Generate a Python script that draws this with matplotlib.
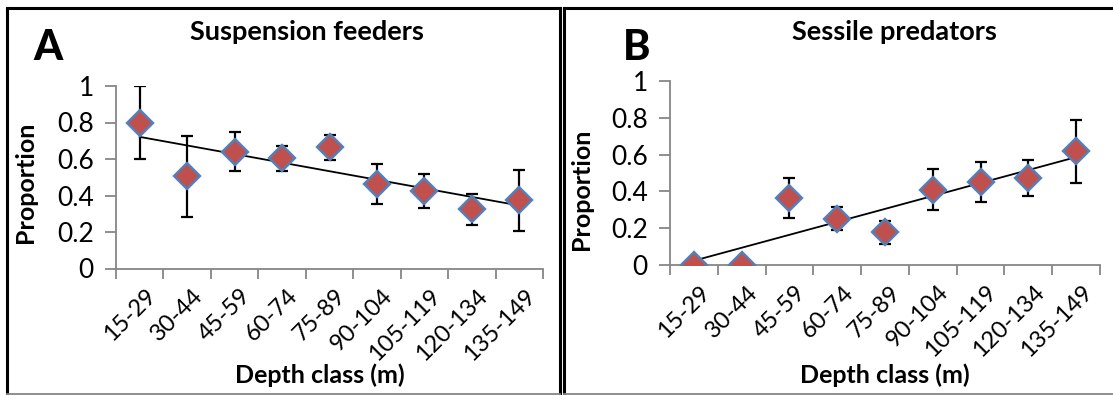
import numpy as np
import matplotlib
matplotlib.use("Agg")
import matplotlib.pyplot as plt
from matplotlib.lines import Line2D
from matplotlib.transforms import ScaledTranslation

plt.rcParams['font.family'] = ['Lato', 'DejaVu Sans']

categories = ["15-29", "30-44", "45-59", "60-74", "75-89", "90-104", "105-119", "120-134", "135-149"]

susp_vals = [0.80, 0.505, 0.64, 0.603, 0.664, 0.465, 0.424, 0.324, 0.373]
susp_err = [0.20, 0.222, 0.107, 0.068, 0.07, 0.11, 0.095, 0.086, 0.165]

sess_vals = [0.0, 0.0, 0.364, 0.251, 0.177, 0.41, 0.451, 0.474, 0.617]
sess_err = [0.0, 0.0, 0.108, 0.062, 0.064, 0.113, 0.107, 0.097, 0.171]

yticks = [0, 0.2, 0.4, 0.6, 0.8, 1.0]
yticklabels = ["0", "0.2", "0.4", "0.6", "0.8", "1"]

W, H = 1113, 395
fig = plt.figure(figsize=(W / 100, H / 100), dpi=100)

def frac_box(l, r, t, b):
    return [l / W, (H - b) / H, (r - l) / W, (b - t) / H]

AXIS_GRAY = "#868686"

def panel(box, vals, errs, title, letter, title_xy, letter_xy, ylab_pos, xlab_pos):
    ax = fig.add_axes(frac_box(*box))
    x = np.arange(len(categories))
    ax.errorbar(x, vals, yerr=errs, fmt='none', ecolor='black', elinewidth=1.6,
                capsize=4.3, capthick=1.6, zorder=2)
    # linear trendline
    coef = np.polyfit(x, vals, 1)
    ax.plot([x[0], x[-1]], np.polyval(coef, [x[0], x[-1]]), color='black', lw=1.3, zorder=3)
    ax.plot(x, vals, linestyle='none', marker='D', markersize=13.5,
            markerfacecolor='#C0504D', markeredgecolor='#4F81BD', markeredgewidth=1.7, zorder=4)
    ax.set_xlim(-0.5, len(categories) - 0.5)
    ax.set_ylim(0, 1)
    for s in ['top', 'right']:
        ax.spines[s].set_visible(False)
    for s in ['left', 'bottom']:
        ax.spines[s].set_color(AXIS_GRAY)
        ax.spines[s].set_linewidth(1.3)
    ax.set_xticks(np.arange(len(categories) + 1) - 0.5)
    ax.set_xticklabels([])
    ax.set_xticks(x, minor=True)
    ax.set_xticklabels(categories, minor=True, rotation=45, ha='right',
                       rotation_mode='anchor', fontsize=17)
    ax.tick_params(axis='x', which='major', direction='out', length=7, width=1.3, color=AXIS_GRAY)
    ax.tick_params(axis='x', which='minor', length=0, pad=12)
    offset = ScaledTranslation(5 / 100, 0, fig.dpi_scale_trans)
    for lab in ax.get_xticklabels(minor=True):
        lab.set_transform(lab.get_transform() + offset)
    ax.set_yticks(yticks)
    ax.set_yticklabels(yticklabels, fontsize=19)
    ax.tick_params(axis='y', direction='out', length=8, width=1.3, color=AXIS_GRAY, pad=8)
    ax.set_xlabel("Depth class (m)", fontsize=18, fontweight='bold', va='top')
    ax.set_ylabel("Proportion", fontsize=18, fontweight='bold')
    ax.yaxis.set_label_coords(*ylab_pos)
    ax.xaxis.set_label_coords(*xlab_pos)
    fig.text(title_xy[0] / W, 1 - title_xy[1] / H, title, fontsize=19.5, fontweight='bold',
             ha='center', va='center')
    fig.text(letter_xy[0] / W, 1 - letter_xy[1] / H, letter, fontsize=30, fontweight='black',
             ha='center', va='center')
    return ax

panel((116, 543, 86, 268.5), susp_vals, susp_err, "Suspension feeders", "A", (307, 32), (48, 48),
      (-0.185, 0.474), (0.478, -0.518))
panel((670, 1100, 81, 265), sess_vals, sess_err, "Sessile predators", "B", (894, 32), (637, 48),
      (-0.179, 0.413), (0.5, -0.533))

def fline(x0, y0, x1, y1, color='black', lw=2.2):
    fig.add_artist(Line2D([x0 / W, x1 / W], [1 - y0 / H, 1 - y1 / H], color=color, lw=lw))

# Panel frames
fline(7, 8, 560, 8)
fline(7, 8, 7, 394)
fline(560, 8, 560, 394)
fline(7, 394, 560, 394, color=AXIS_GRAY, lw=1.3)
fline(564, 8, 1113, 8)
fline(564, 8, 564, 394)
fline(564, 394, 1113, 394, color=AXIS_GRAY, lw=1.3)

fig.savefig("out.png", dpi=100)
